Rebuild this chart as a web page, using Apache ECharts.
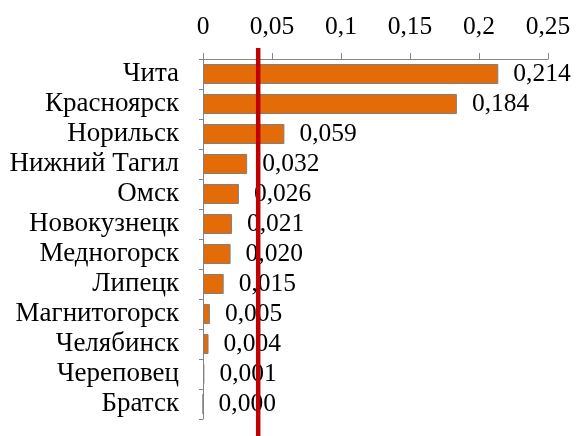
<!DOCTYPE html>
<html>
<head>
<meta charset="utf-8">
<script src="https://cdn.jsdelivr.net/npm/echarts@6/dist/echarts.min.js"></script>
<style>
  html, body { margin: 0; padding: 0; background: #fff; }
  #chart { width: 577px; height: 436px; }
</style>
</head>
<body>
<div id="chart"></div>
<script>
// Cities, top to bottom
const categories = ['Чита', 'Красноярск', 'Норильск', 'Нижний Тагил', 'Омск', 'Новокузнецк',
  'Медногорск', 'Липецк', 'Магнитогорск', 'Челябинск', 'Череповец', 'Братск'];
// Value for each city
const values = [0.214, 0.184, 0.059, 0.032, 0.026, 0.021, 0.020, 0.015, 0.005, 0.004, 0.001, 0.000];
// Value axis range and step
const axisMin = 0;
const axisMax = 0.25;
const axisStep = 0.05;
// Reference level drawn as a red vertical line
const threshold = 0.04;

const FONT = 'Liberation Serif';
const comma = s => s.replace('.', ',');

const chart = echarts.init(document.getElementById('chart'), null, { renderer: 'canvas' });

chart.setOption({
  animation: false,
  backgroundColor: '#ffffff',
  grid: { left: 203, top: 59, width: 345, height: 360, containLabel: false },
  xAxis: {
    type: 'value',
    position: 'top',
    min: axisMin,
    max: axisMax,
    interval: axisStep,
    splitLine: { show: false },
    axisLine: { show: true, lineStyle: { color: '#868686', width: 1 } },
    axisTick: { show: true, length: 6, lineStyle: { color: '#868686' } },
    axisLabel: {
      margin: 19,
      color: '#000',
      fontFamily: FONT,
      fontSize: 25.5,
      formatter: v => comma(String(+v.toFixed(2)))
    }
  },
  yAxis: {
    type: 'category',
    inverse: true,
    data: categories,
    axisLine: { show: true, lineStyle: { color: '#868686', width: 1 } },
    axisTick: { show: true, length: 4, lineStyle: { color: '#868686' } },
    axisLabel: {
      interval: 0,
      hideOverlap: false,
      margin: 24,
      color: '#000',
      fontFamily: FONT,
      fontSize: 27
    }
  },
  series: [{
    type: 'bar',
    data: values,
    barWidth: 20,
    itemStyle: { color: '#E36C09', borderColor: '#808080', borderWidth: 1 },
    label: {
      show: true,
      position: 'right',
      distance: 15,
      color: '#000',
      fontFamily: FONT,
      fontSize: 25.5,
      formatter: p => comma(p.value.toFixed(3))
    }
  }]
});

// Red reference line at the threshold value, placed through the value axis scale
const xLine = chart.convertToPixel({ xAxisIndex: 0 }, threshold);
chart.setOption({
  graphic: [{
    type: 'line',
    z: 100,
    shape: { x1: xLine, y1: 48, x2: xLine, y2: 436 },
    style: { stroke: '#C00000', lineWidth: 4.5 }
  }]
});
</script>
</body>
</html>
